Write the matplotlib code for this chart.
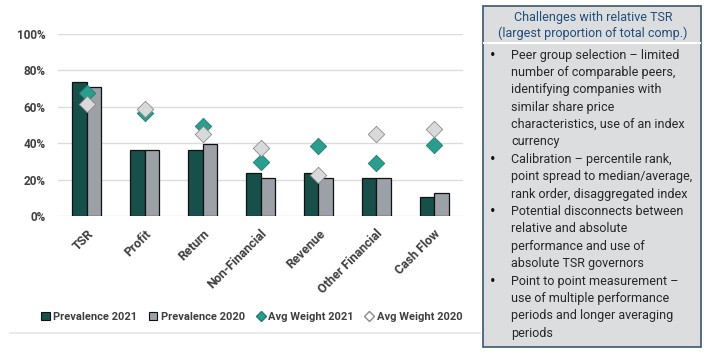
import numpy as np
import matplotlib.pyplot as plt
from matplotlib.patches import Rectangle
from matplotlib.lines import Line2D

categories = ['TSR', 'Profit', 'Return', 'Non-Financial', 'Revenue', 'Other Financial', 'Cash Flow']
prev_2021 = [0.734, 0.365, 0.365, 0.235, 0.235, 0.207, 0.103]
prev_2020 = [0.708, 0.365, 0.393, 0.207, 0.207, 0.207, 0.128]
wt_2021 = [0.677, 0.567, 0.497, 0.294, 0.387, 0.292, 0.391]
wt_2020 = [0.615, 0.587, 0.451, 0.372, 0.224, 0.448, 0.479]

header = ['Challenges with relative TSR', '(largest proportion of total comp.)']
bullets = [
    ['Peer group selection \u2013 limited', 'number of comparable peers,',
     'identifying companies with', 'similar share price',
     'characteristics, use of an index', 'currency'],
    ['Calibration \u2013 percentile rank,', 'point spread to median/average,',
     'rank order, disaggregated index'],
    ['Potential disconnects between', 'relative and absolute',
     'performance and use of', 'absolute TSR governors'],
    ['Point to point measurement \u2013', 'use of multiple performance',
     'periods and longer averaging', 'periods'],
]

W, H = 709, 356
def fx(px):
    return px / W
def fy(py):
    return 1 - py / H

dark = '#174f4a'
grey = '#9ba1a7'
teal = '#2a9d8f'
light = '#d8d9db'
tick_col = '#3f3f3f'

plt.rcParams['font.family'] = ['Roboto', 'DejaVu Sans']

fig = plt.figure(figsize=(W / 100, H / 100), dpi=100)
ax = fig.add_axes([fx(58), fy(216), fx(463) - fx(58), fy(34) - fy(216)])

x = np.arange(len(categories))
bw = 0.25
ax.bar(x - bw / 2, prev_2021, bw, color=dark, edgecolor='#111111', linewidth=0.9, zorder=3)
ax.bar(x + bw / 2, prev_2020, bw, color=grey, edgecolor='#111111', linewidth=0.9, zorder=3)
ax.scatter(x, wt_2021, marker='D', s=70, color=teal, edgecolor='#1f7d72', linewidth=0.6, zorder=4)
ax.scatter(x, wt_2020, marker='D', s=70, color=light, edgecolor='#8a8a8a', linewidth=0.6, zorder=5)

ax.set_xlim(-0.5, len(categories) - 0.5)
ax.set_ylim(0, 1)
ax.set_yticks(np.arange(0, 1.01, 0.2))
ax.set_yticklabels([f'{int(round(v * 100))}%' for v in np.arange(0, 1.01, 0.2)],
                   fontsize=8.5, fontweight='bold', color=tick_col)
ax.yaxis.grid(True, color='#dcdcdc', linewidth=1, zorder=0)
ax.set_xticks(x)
ax.set_xticklabels(categories, rotation=45, ha='right', va='top', rotation_mode='anchor',
                   fontsize=9, fontweight='bold', color=tick_col)
ax.tick_params(length=0, pad=8)
ax.tick_params(axis='y', pad=9)
for s in ax.spines.values():
    s.set_visible(False)

handles = [
    Rectangle((0, 0), 1, 1, facecolor=dark, edgecolor='#111111', linewidth=0.8),
    Rectangle((0, 0), 1, 1, facecolor=grey, edgecolor='#111111', linewidth=0.8),
    Line2D([], [], marker='D', linestyle='none', markersize=5, markerfacecolor=teal, markeredgecolor='#1f7d72'),
    Line2D([], [], marker='D', linestyle='none', markersize=5, markerfacecolor='white', markeredgecolor='#8a8a8a'),
]
fig.legend(handles, ['Prevalence 2021', 'Prevalence 2020', 'Avg Weight 2021', 'Avg Weight 2020'],
           loc='center', bbox_to_anchor=(fx(252), fy(317)), ncol=4, frameon=False,
           prop={'size': 8, 'weight': 'bold'}, labelcolor=tick_col,
           handlelength=0.8, handleheight=0.8, handletextpad=0.3, columnspacing=1.0)

fig.add_artist(Line2D([fx(10), fx(480)], [fy(333), fy(333)], color='#e6e6e6', linewidth=1.2))

# text box on the right
fig.add_artist(Rectangle((fx(483), fy(347)), fx(701) - fx(483), fy(6) - fy(347),
                         facecolor='#dcdddf', edgecolor='#3d5670', linewidth=1.2))
fig.add_artist(Line2D([fx(484), fx(700)], [fy(43), fy(43)], color='white', linewidth=1.5))
for i, line in enumerate(header):
    fig.text(fx(593), fy(17 + 16.5 * i), line, ha='center', va='center',
             fontsize=9, color='#1f4e79')

row = 0
for item in bullets:
    for j, line in enumerate(item):
        yy = fy(55 + 17.4 * row)
        if j == 0:
            fig.text(fx(493), yy, '\u2022', ha='center', va='center', fontsize=12, color='#111111')
        fig.text(fx(511), yy, line, ha='left', va='center', fontsize=9,
                 color='#262626')
        row += 1

fig.savefig('out.png', dpi=100)
